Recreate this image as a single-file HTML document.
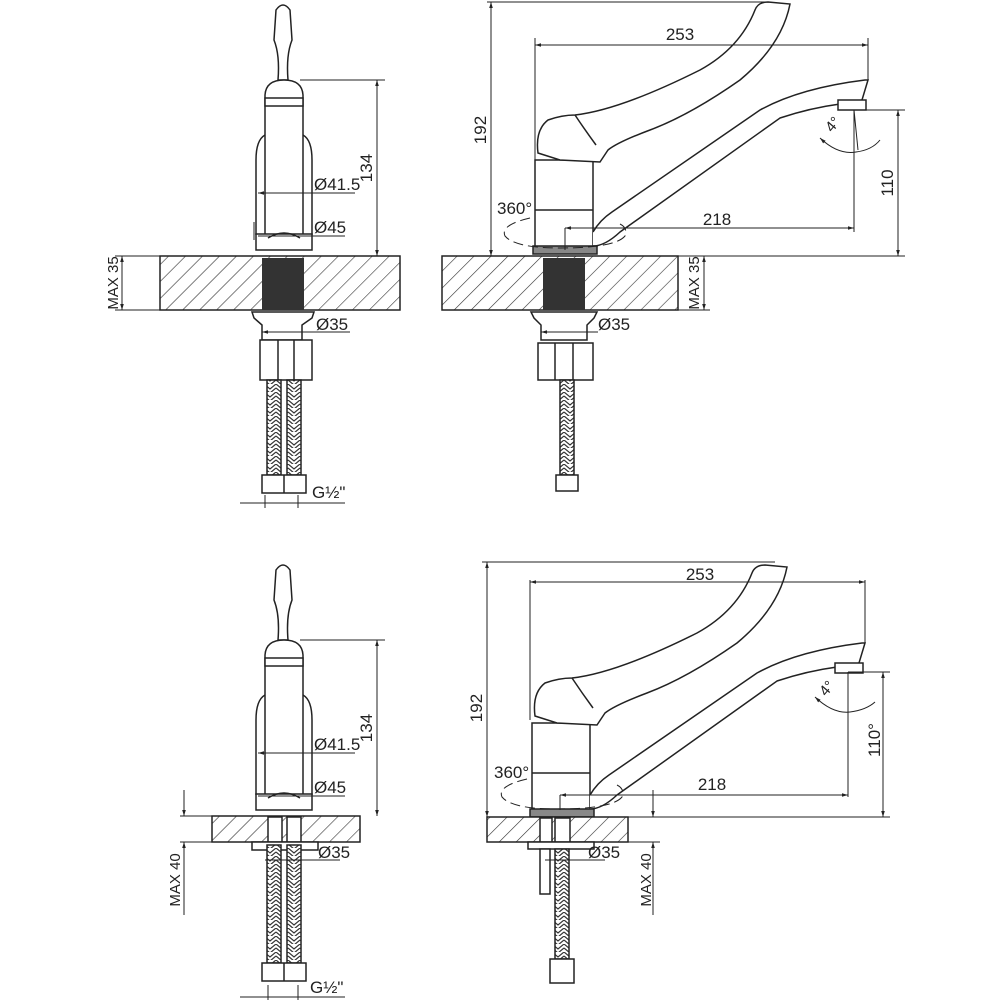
<!DOCTYPE html>
<html><head><meta charset="utf-8"><style>
html,body{margin:0;padding:0;background:#fff}
svg{display:block}
text{font-family:"Liberation Sans",sans-serif;font-size:17px;fill:#222}
</style></head><body>
<svg width="1000" height="1000" viewBox="0 0 1000 1000" xmlns="http://www.w3.org/2000/svg">
<defs>
<pattern id="h" patternUnits="userSpaceOnUse" width="12" height="12" patternTransform="rotate(45)">
<rect width="12" height="12" fill="#fff"/><line x1="0" y1="0" x2="0" y2="12" stroke="#333" stroke-width="1.2"/>
</pattern>
<marker id="a" viewBox="0 0 10 10" refX="10" refY="5" markerWidth="10" markerHeight="6" orient="auto-start-reverse" markerUnits="userSpaceOnUse"><path d="M0,2 L10,5 L0,8 z" fill="#222"/></marker>
<pattern id="br" patternUnits="userSpaceOnUse" width="12" height="8">
<rect width="12" height="8" fill="#fff"/><path d="M0,0 L6,5 L12,0 M0,4 L6,9 L12,4" stroke="#333" fill="none" stroke-width="1.2"/>
</pattern>
<!-- front view faucet upper -->
<g id="front" fill="#fff" stroke="#222" stroke-width="1.5">
<path d="M276,10 Q283,0 290,10 L292,40 Q286,55 288,80 L278,80 Q280,55 274,40 Z"/>
<path d="M265,245 L265,95 Q266,80 284,80 Q302,80 303,95 L303,245 Z"/>
<rect x="265" y="98" width="38" height="8"/>
<path d="M265,135 Q256,140 256,160 L256,235 M303,135 Q312,140 312,160 L312,235" fill="none"/>
<rect x="256" y="234" width="56" height="16"/>
<path d="M268,238 Q284,228 300,238" fill="none"/>
</g>
<!-- side view -->
<g id="side" fill="#fff" stroke="#222" stroke-width="1.5">
<path d="M535,250 L535,160 L593,160 L593,250 Z"/>
<line x1="535" y1="210" x2="593" y2="210"/>
<path d="M538,153 Q535,130 548,120 Q562,115 575,115 Q620,110 700,70 Q740,48 755,10 Q758,2 768,2 L790,4 Q782,45 740,80 Q690,115 650,130 Q618,142 608,150 L600,162 L560,160 Z"/>
<path d="M575,115 Q585,130 596,145" fill="none"/>
<path d="M593,232 Q600,220 612,212 L760,110 Q800,88 865,80 L868,80 L862,100 L840,104 Q810,108 780,118 L620,232 Q605,246 593,246"/>
<rect x="838" y="100" width="28" height="10"/>
<rect x="533" y="246" width="64" height="8" fill="#888"/>
</g>
</defs>

<!-- ===== TOP LEFT ===== -->
<use href="#front"/>
<rect x="160" y="256" width="240" height="54" fill="url(#h)" stroke="#222" stroke-width="1.5"/>
<rect x="262" y="258" width="42" height="52" fill="#333"/>
<g fill="#fff" stroke="#222" stroke-width="1.5">
<path d="M252,312 L314,312 L312,318 L302,325 L302,340 L262,340 L262,325 L254,318 Z"/>
<rect x="260" y="340" width="52" height="40"/>
<line x1="278" y1="340" x2="278" y2="380"/><line x1="294" y1="340" x2="294" y2="380"/>
<rect x="267" y="380" width="14" height="95" fill="url(#br)"/>
<rect x="287" y="380" width="14" height="95" fill="url(#br)"/>
<rect x="262" y="475" width="44" height="18"/>
<line x1="284" y1="475" x2="284" y2="493"/>
</g>
<g stroke="#222" stroke-width="1" fill="none">
<line x1="300" y1="80" x2="385" y2="80"/>
<line x1="377" y1="80" x2="377" y2="256" marker-start="url(#a)" marker-end="url(#a)"/>
<line x1="258" y1="193" x2="355" y2="193"/>
<line x1="258" y1="193" x2="268" y2="193" marker-start="url(#a)"/>
<line x1="258" y1="236" x2="345" y2="236"/>
<line x1="254" y1="222" x2="254" y2="240"/><line x1="312" y1="222" x2="312" y2="240"/>
<line x1="262" y1="332" x2="350" y2="332"/>
<line x1="262" y1="332" x2="272" y2="332" marker-start="url(#a)"/>
<line x1="115" y1="256" x2="160" y2="256"/><line x1="115" y1="310" x2="160" y2="310"/>
<line x1="122" y1="256" x2="122" y2="310" marker-start="url(#a)" marker-end="url(#a)"/>
<line x1="240" y1="503" x2="345" y2="503"/>
<line x1="265" y1="495" x2="265" y2="508"/><line x1="298" y1="495" x2="298" y2="508"/>
</g>
<text x="314" y="190">Ø41.5</text>
<text x="314" y="233">Ø45</text>
<text x="316" y="330">Ø35</text>
<text x="312" y="498">G½"</text>
<text transform="translate(372,168) rotate(-90)" text-anchor="middle">134</text>
<text transform="translate(118,283) rotate(-90)" text-anchor="middle" style="font-size:15px">MAX 35</text>

<!-- ===== TOP RIGHT ===== -->
<use href="#side"/>
<rect x="442" y="256" width="236" height="54" fill="url(#h)" stroke="#222" stroke-width="1.5"/>
<rect x="543" y="258" width="42" height="52" fill="#333"/>
<g fill="#fff" stroke="#222" stroke-width="1.5">
<path d="M531,312 L597,312 L594,318 L587,325 L587,340 L541,340 L541,325 L534,318 Z"/>
<rect x="538" y="343" width="55" height="37"/>
<line x1="555" y1="343" x2="555" y2="380"/><line x1="573" y1="343" x2="573" y2="380"/>
<rect x="560" y="380" width="14" height="95" fill="url(#br)"/>
<rect x="556" y="475" width="22" height="16"/>
</g>
<g stroke="#222" stroke-width="1" fill="none">
<line x1="487" y1="2" x2="770" y2="2"/>
<line x1="491" y1="2" x2="491" y2="256" marker-start="url(#a)" marker-end="url(#a)"/>
<line x1="535" y1="38" x2="535" y2="160"/>
<line x1="868" y1="38" x2="868" y2="80"/>
<line x1="535" y1="45" x2="868" y2="45" marker-start="url(#a)" marker-end="url(#a)"/>
<line x1="866" y1="110" x2="905" y2="110"/>
<line x1="898" y1="110" x2="898" y2="256" marker-start="url(#a)" marker-end="url(#a)"/>
<line x1="600" y1="256" x2="905" y2="256"/>
<line x1="854" y1="110" x2="854" y2="232"/>
<line x1="565" y1="228" x2="854" y2="228" marker-start="url(#a)" marker-end="url(#a)"/>
<line x1="565" y1="228" x2="565" y2="250"/>
<line x1="854" y1="110" x2="858" y2="150"/>
<path d="M820,138 Q838,155 856,152 Q872,150 880,140" marker-start="url(#a)"/>
<path d="M530,218 Q500,225 505,236 Q515,248 560,248 Q615,248 625,236 Q628,228 620,224" stroke-dasharray="10,5"/>
<line x1="585" y1="256" x2="710" y2="256"/><line x1="585" y1="310" x2="710" y2="310"/>
<line x1="704" y1="256" x2="704" y2="310" marker-start="url(#a)" marker-end="url(#a)"/>
<line x1="541" y1="332" x2="598" y2="332"/>
<line x1="541" y1="332" x2="552" y2="332" marker-start="url(#a)"/>
</g>
<text x="680" y="40" text-anchor="middle">253</text>
<text x="717" y="225" text-anchor="middle">218</text>
<text x="497" y="214">360°</text>
<text transform="translate(832,133) rotate(-50)" style="font-size:15px">4°</text>
<text transform="translate(893,183) rotate(-90)" text-anchor="middle">110</text>
<text transform="translate(486,130) rotate(-90)" text-anchor="middle">192</text>
<text transform="translate(699,283) rotate(-90)" text-anchor="middle" style="font-size:15px">MAX 35</text>
<text x="598" y="330">Ø35</text>

<!-- ===== BOTTOM LEFT ===== -->
<use href="#front" transform="translate(0,560)"/>
<rect x="212" y="816" width="148" height="26" fill="url(#h)" stroke="#222" stroke-width="1.5"/>
<g fill="#fff" stroke="#222" stroke-width="1.5">
<rect x="268" y="817" width="14" height="25"/><rect x="287" y="817" width="14" height="25"/>
<rect x="252" y="842" width="66" height="8"/>
<rect x="267" y="845" width="14" height="118" fill="url(#br)"/>
<rect x="287" y="845" width="14" height="118" fill="url(#br)"/>
<rect x="262" y="963" width="44" height="18"/>
<line x1="284" y1="963" x2="284" y2="981"/>
</g>
<g stroke="#222" stroke-width="1" fill="none">
<line x1="300" y1="640" x2="385" y2="640"/>
<line x1="377" y1="640" x2="377" y2="816" marker-start="url(#a)" marker-end="url(#a)"/>
<line x1="258" y1="753" x2="355" y2="753"/>
<line x1="258" y1="753" x2="268" y2="753" marker-start="url(#a)"/>
<line x1="258" y1="796" x2="345" y2="796"/>
<line x1="180" y1="816" x2="212" y2="816"/><line x1="180" y1="842" x2="212" y2="842"/>
<line x1="184" y1="790" x2="184" y2="816" marker-end="url(#a)"/>
<line x1="184" y1="842" x2="184" y2="915" marker-start="url(#a)"/>
<line x1="265" y1="860" x2="340" y2="860"/>
<line x1="240" y1="997" x2="345" y2="997"/>
<line x1="268" y1="985" x2="268" y2="1000"/><line x1="298" y1="985" x2="298" y2="1000"/>
</g>
<text x="314" y="750">Ø41.5</text>
<text x="314" y="793">Ø45</text>
<text x="318" y="858">Ø35</text>
<text x="310" y="993">G½"</text>
<text transform="translate(372,728) rotate(-90)" text-anchor="middle">134</text>
<text transform="translate(180,880) rotate(-90)" text-anchor="middle" style="font-size:15px">MAX 40</text>

<!-- ===== BOTTOM RIGHT ===== -->
<use href="#side" transform="translate(-3,563)"/>
<rect x="487" y="817" width="141" height="25" fill="url(#h)" stroke="#222" stroke-width="1.5"/>
<g fill="#fff" stroke="#222" stroke-width="1.5">
<rect x="540" y="818" width="12" height="24"/><rect x="555" y="818" width="15" height="24"/>
<rect x="528" y="842" width="66" height="7"/>
<rect x="540" y="849" width="10" height="45"/>
<rect x="555" y="849" width="14" height="110" fill="url(#br)"/>
<rect x="550" y="959" width="24" height="24"/>
</g>
<g stroke="#222" stroke-width="1" fill="none">
<line x1="482" y1="562" x2="775" y2="562"/>
<line x1="487" y1="562" x2="487" y2="817" marker-start="url(#a)" marker-end="url(#a)"/>
<line x1="530" y1="580" x2="530" y2="720"/>
<line x1="865" y1="580" x2="865" y2="643"/>
<line x1="530" y1="582" x2="865" y2="582" marker-start="url(#a)" marker-end="url(#a)"/>
<line x1="848" y1="672" x2="890" y2="672"/>
<line x1="883" y1="672" x2="883" y2="817" marker-start="url(#a)" marker-end="url(#a)"/>
<line x1="595" y1="817" x2="890" y2="817"/>
<line x1="848" y1="672" x2="848" y2="797"/>
<line x1="560" y1="795" x2="848" y2="795" marker-start="url(#a)" marker-end="url(#a)"/>
<line x1="560" y1="795" x2="560" y2="810"/>
<path d="M815,697 Q833,714 850,712 Q866,710 875,702" marker-start="url(#a)"/>
<path d="M527,779 Q497,786 502,797 Q512,809 557,809 Q612,809 622,797 Q625,789 617,785" stroke-dasharray="10,5"/>
<line x1="653" y1="790" x2="653" y2="817" marker-end="url(#a)"/>
<line x1="653" y1="842" x2="653" y2="915" marker-start="url(#a)"/>
<line x1="628" y1="842" x2="660" y2="842"/>
<line x1="545" y1="860" x2="605" y2="860"/>
</g>
<text x="700" y="580" text-anchor="middle">253</text>
<text x="712" y="790" text-anchor="middle">218</text>
<text x="494" y="778">360°</text>
<text transform="translate(826,697) rotate(-50)" style="font-size:15px">4°</text>
<text transform="translate(880,740) rotate(-90)" text-anchor="middle">110°</text>
<text transform="translate(482,708) rotate(-90)" text-anchor="middle">192</text>
<text transform="translate(651,880) rotate(-90)" text-anchor="middle" style="font-size:15px">MAX 40</text>
<text x="588" y="858">Ø35</text>
</svg>
</body></html>
